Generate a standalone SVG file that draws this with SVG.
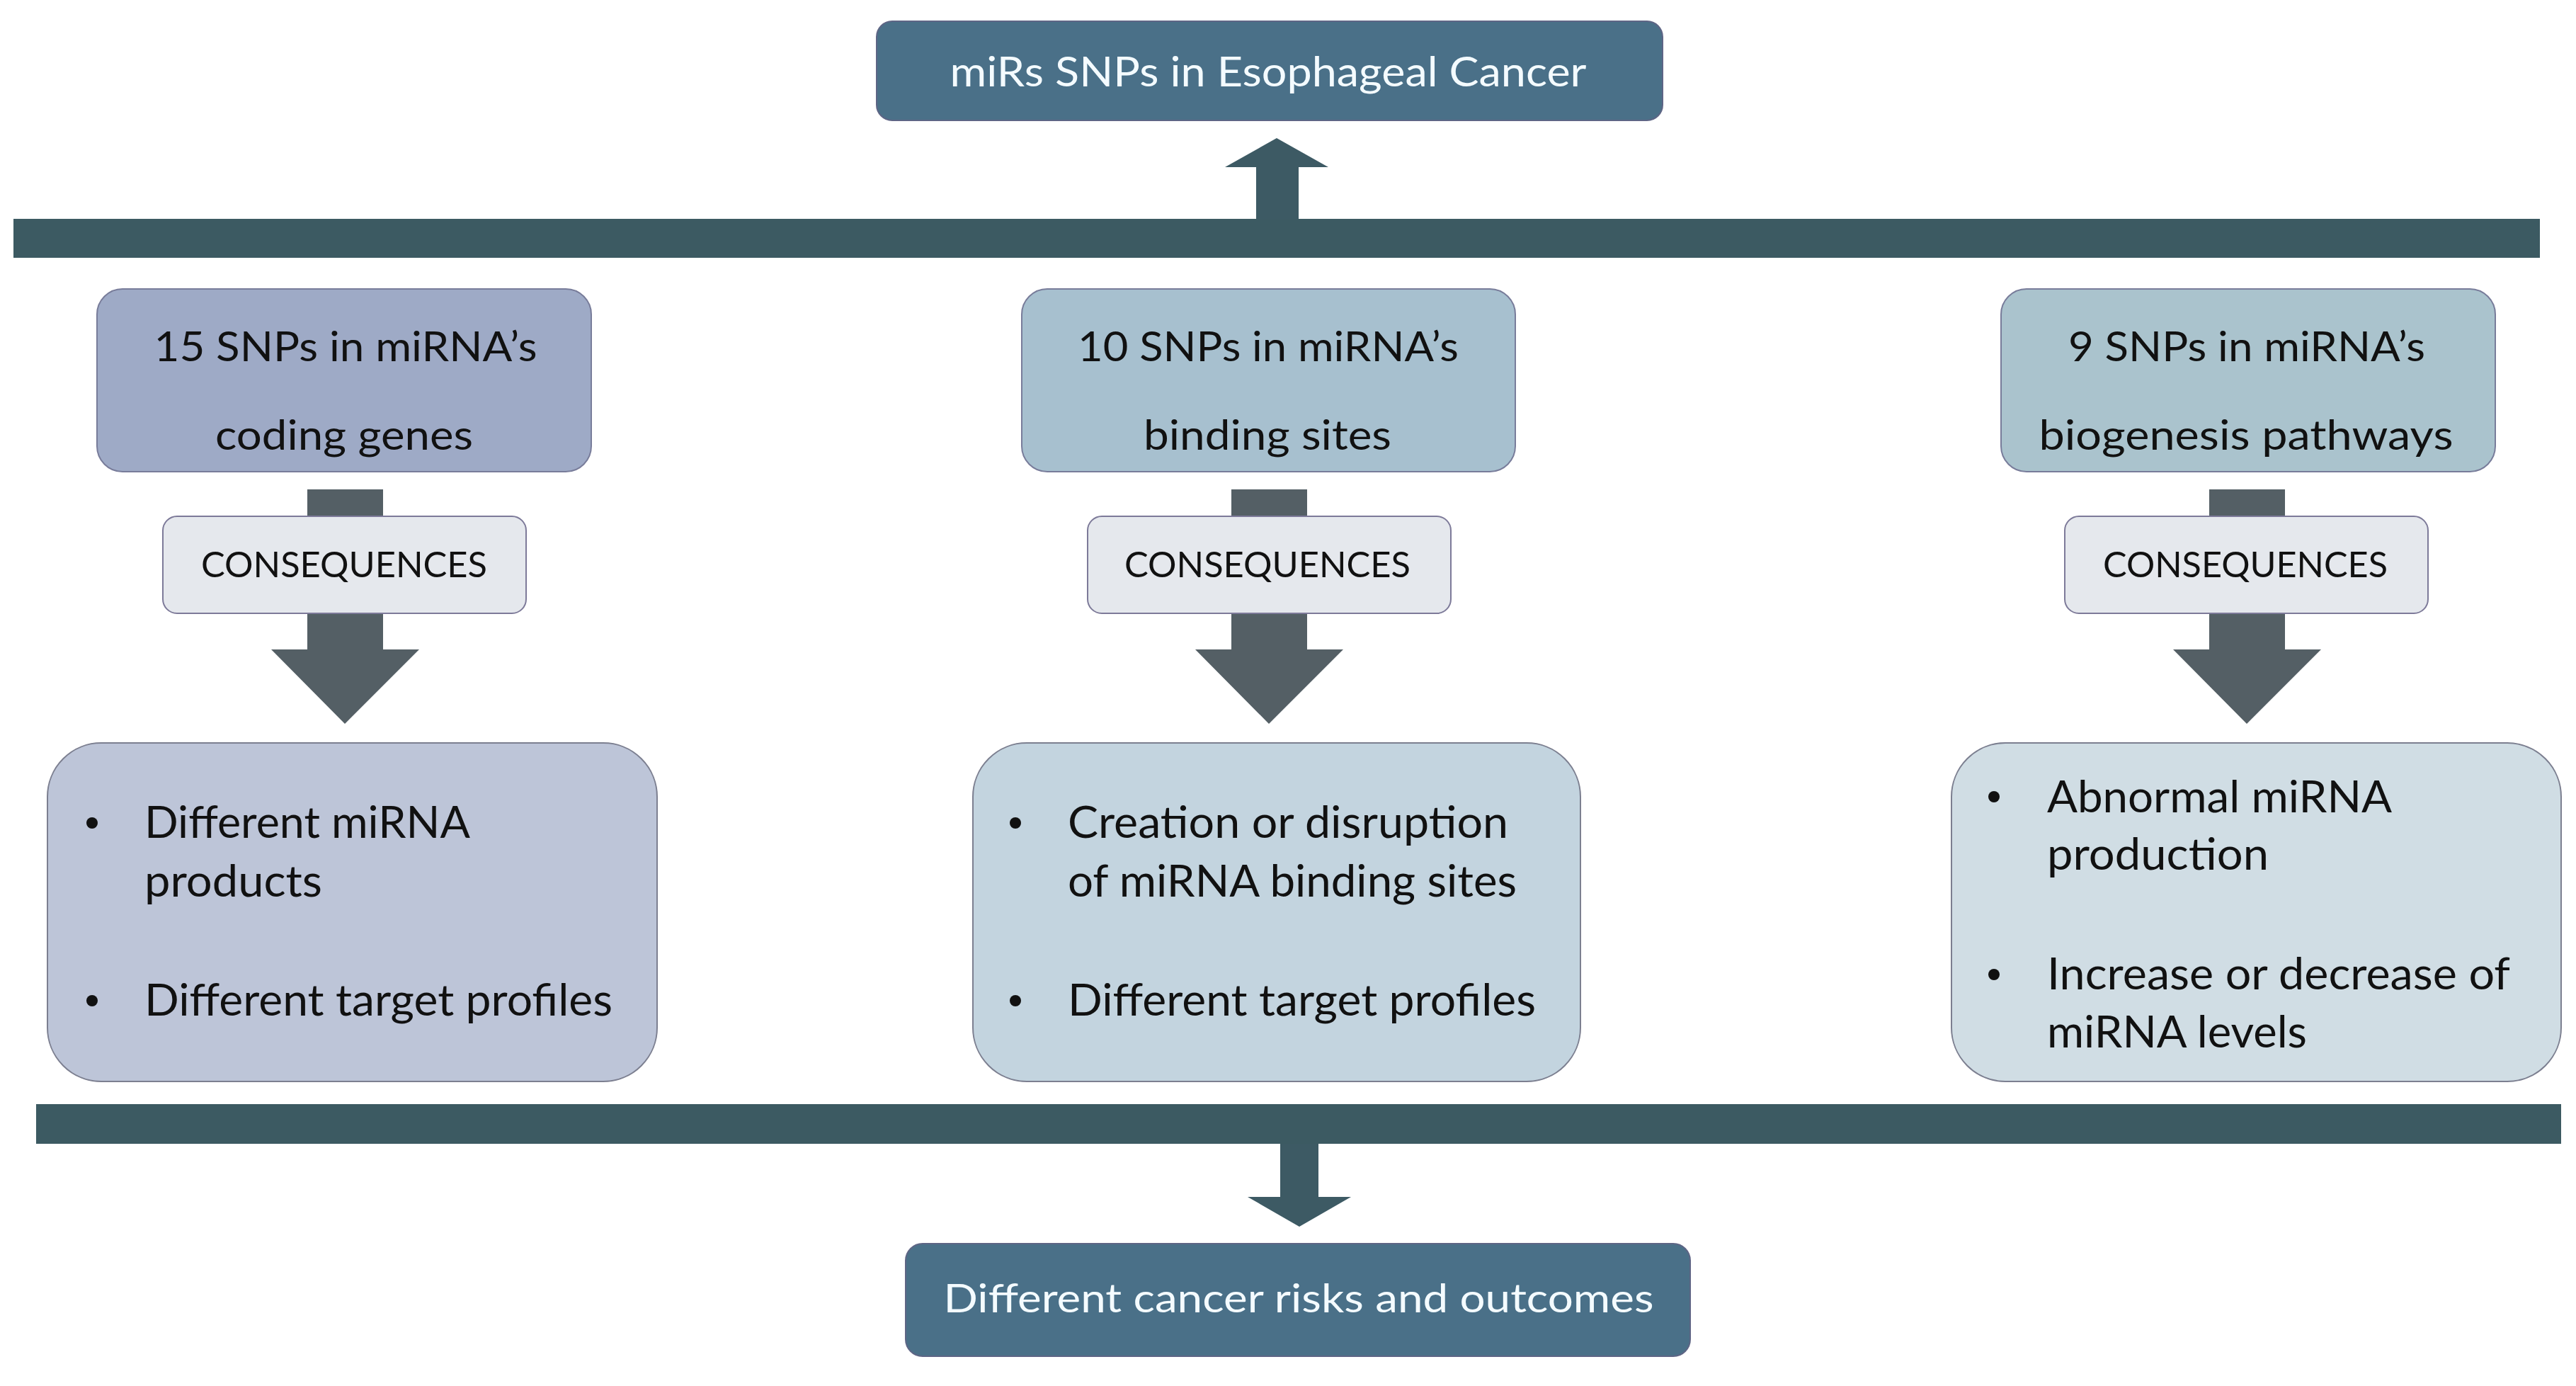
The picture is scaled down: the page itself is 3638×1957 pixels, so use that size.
<svg xmlns="http://www.w3.org/2000/svg" width="3638" height="1957" viewBox="0 0 3638 1957">
<style>
  text { font-family: Lato, "Open Sans", "Liberation Sans", sans-serif; }
  .dark { fill: #4a7088; stroke: #5e6585; stroke-width: 2; }
  .white { fill: #f4fbff; font-size: 59px; text-anchor: middle; }
  .bar { fill: #3c5a62; }
  .conn { fill: #3d5a64; }
  .grey { fill: #545f65; }
  .top { stroke: #787c9a; stroke-width: 2; }
  .cons { fill: #e5e8ed; stroke: #7d7a99; stroke-width: 2; }
  .low { stroke: #7c7f90; stroke-width: 2; }
  .t1 { font-size: 59px; fill: #111; text-anchor: middle; }
  .tc { font-size: 50px; fill: #111; text-anchor: middle; }
  .tl { font-size: 61px; fill: #111; }
  .dot { fill: #111; }
</style>

<g id="connectors">
  <rect class="bar" x="19" y="309" width="3568" height="55"/>
  <rect class="bar" x="51" y="1559" width="3566" height="56"/>
  <path class="conn" d="M1774 310 L1774 236 L1730 236 L1803 195 L1876 236 L1834 236 L1834 310 Z"/>
  <path class="conn" d="M1808 1615 L1808 1690 L1762 1690 L1835 1732 L1908 1690 L1862 1690 L1862 1615 Z"/>
  <rect class="grey" x="434" y="691" width="107" height="40"/>
  <rect class="grey" x="1739" y="691" width="107" height="40"/>
  <rect class="grey" x="3120" y="691" width="107" height="40"/>
  <path class="grey" d="M434 864 L434 917 L383 917 L487 1022 L592 917 L541 917 L541 864 Z"/>
  <path class="grey" d="M1739 864 L1739 917 L1688 917 L1792 1022 L1897 917 L1846 917 L1846 864 Z"/>
  <path class="grey" d="M3120 864 L3120 917 L3069 917 L3173 1022 L3278 917 L3227 917 L3227 864 Z"/>
</g>

<g id="title">
  <rect class="dark" x="1238" y="30" width="1110" height="140" rx="22"/>
  <text class="white" x="1791" y="122" textLength="899" lengthAdjust="spacingAndGlyphs">miRs SNPs in Esophageal Cancer</text>
</g>

<g id="snps-coding">
  <rect class="top" fill="#9eaac6" x="137" y="408" width="698" height="258" rx="36"/>
  <text class="t1" x="488" y="510" textLength="541" lengthAdjust="spacingAndGlyphs">15 SNPs in miRNA’s</text>
  <text class="t1" x="486" y="635" textLength="364" lengthAdjust="spacingAndGlyphs">coding genes</text>
</g>

<g id="snps-binding">
  <rect class="top" fill="#a7c0cf" x="1443" y="408" width="697" height="258" rx="36"/>
  <text class="t1" x="1791" y="510" textLength="538" lengthAdjust="spacingAndGlyphs">10 SNPs in miRNA’s</text>
  <text class="t1" x="1790" y="635" textLength="350" lengthAdjust="spacingAndGlyphs">binding sites</text>
</g>

<g id="snps-biogenesis">
  <rect class="top" fill="#aac3cd" x="2826" y="408" width="698" height="258" rx="36"/>
  <text class="t1" x="3173" y="510" textLength="504" lengthAdjust="spacingAndGlyphs">9 SNPs in miRNA’s</text>
  <text class="t1" x="3172" y="635" textLength="585" lengthAdjust="spacingAndGlyphs">biogenesis pathways</text>
</g>

<g id="consequences-1">
  <rect class="cons" x="230" y="729" width="513" height="137" rx="20"/>
  <text class="tc" x="486" y="815" textLength="404" lengthAdjust="spacingAndGlyphs">CONSEQUENCES</text>
</g>
<g id="consequences-2">
  <rect class="cons" x="1536" y="729" width="513" height="137" rx="20"/>
  <text class="tc" x="1790" y="815" textLength="404" lengthAdjust="spacingAndGlyphs">CONSEQUENCES</text>
</g>
<g id="consequences-3">
  <rect class="cons" x="2916" y="729" width="513" height="137" rx="20"/>
  <text class="tc" x="3171" y="815" textLength="402" lengthAdjust="spacingAndGlyphs">CONSEQUENCES</text>
</g>

<g id="effects-coding">
  <rect class="low" fill="#bdc5d8" x="67" y="1049" width="861" height="478" rx="76"/>
  <circle class="dot" cx="130" cy="1162" r="8"/>
  <circle class="dot" cx="130" cy="1413" r="8"/>
  <text class="tl" x="204" y="1183" textLength="460" lengthAdjust="spacingAndGlyphs">Different miRNA</text>
  <text class="tl" x="204" y="1266" textLength="251" lengthAdjust="spacingAndGlyphs">products</text>
  <text class="tl" x="204" y="1434" textLength="661" lengthAdjust="spacingAndGlyphs">Different target profiles</text>
</g>

<g id="effects-binding">
  <rect class="low" fill="#c3d4df" x="1374" y="1049" width="858" height="478" rx="76"/>
  <circle class="dot" cx="1434" cy="1162" r="8"/>
  <circle class="dot" cx="1434" cy="1413" r="8"/>
  <text class="tl" x="1508" y="1183" textLength="622" lengthAdjust="spacingAndGlyphs">Creation or disruption</text>
  <text class="tl" x="1508" y="1266" textLength="634" lengthAdjust="spacingAndGlyphs">of miRNA binding sites</text>
  <text class="tl" x="1508" y="1434" textLength="661" lengthAdjust="spacingAndGlyphs">Different target profiles</text>
</g>

<g id="effects-biogenesis">
  <rect class="low" fill="#d0dde4" x="2756" y="1049" width="861" height="478" rx="76"/>
  <circle class="dot" cx="2816" cy="1125" r="8"/>
  <circle class="dot" cx="2816" cy="1376" r="8"/>
  <text class="tl" x="2891" y="1147" textLength="487" lengthAdjust="spacingAndGlyphs">Abnormal miRNA</text>
  <text class="tl" x="2891" y="1228" textLength="313" lengthAdjust="spacingAndGlyphs">production</text>
  <text class="tl" x="2891" y="1397" textLength="654" lengthAdjust="spacingAndGlyphs">Increase or decrease of</text>
  <text class="tl" x="2891" y="1479" textLength="367" lengthAdjust="spacingAndGlyphs">miRNA levels</text>
</g>

<g id="outcome">
  <rect class="dark" x="1279" y="1756" width="1108" height="159" rx="24"/>
  <text class="white" x="1834" y="1853" style="font-size:57px" textLength="1003" lengthAdjust="spacingAndGlyphs">Different cancer risks and outcomes</text>
</g>
</svg>
